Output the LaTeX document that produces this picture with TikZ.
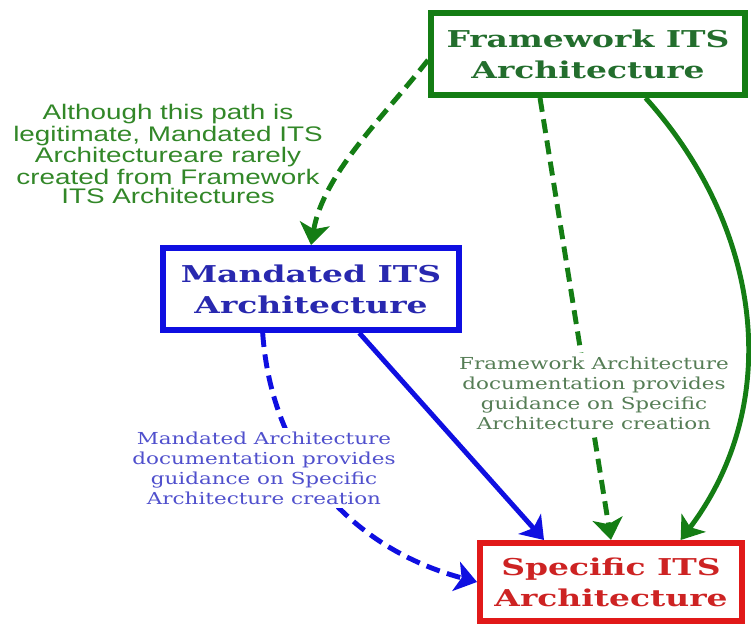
\documentclass[tikz,border=0pt]{standalone}
\usepackage{fontspec}
\usepackage{tikz}
\usetikzlibrary{arrows.meta,positioning,calc}
\newfontfamily\boxfont[FakeStretch=1.42]{DejaVu Serif}
\newfontfamily\notefont[FakeStretch=1.3]{DejaVu Serif}
\newfontfamily\pathfont[FakeStretch=1.32]{Liberation Sans}
\definecolor{fwgreen}{RGB}{20,125,20}
\definecolor{fwtext}{RGB}{35,110,45}
\definecolor{notegreen}{RGB}{85,125,85}
\definecolor{pathgreen}{RGB}{50,135,40}
\definecolor{mablue}{RGB}{15,15,225}
\definecolor{matext}{RGB}{40,40,175}
\definecolor{noteblue}{RGB}{80,80,205}
\definecolor{spred}{RGB}{225,25,25}
\definecolor{sptext}{RGB}{205,35,35}

\begin{document}
\begin{tikzpicture}[x=0.02cm, y=0.02cm, >={Stealth[length=4.3mm,width=6mm,inset=1.1mm]}, line width=2.8pt]
\tikzstyle{arch}=[draw, line width=3.4pt, fill=white, align=center, inner sep=0pt,
  font=\boxfont\bfseries\fontsize{13.2}{17.6}\selectfont]
\tikzstyle{note}=[align=center, fill=white, inner sep=2pt,
  font=\notefont\fontsize{9.4}{11.4}\selectfont]
\tikzstyle{dashy}=[dash pattern=on 0.28cm off 0.15cm]
\useasboundingbox (0,0) rectangle (751,629);

\node[arch, draw=fwgreen, text=fwtext, minimum width=6.28cm, minimum height=1.64cm] (FW) at (588,575) {Framework ITS\\Architecture};
\node[arch, draw=mablue, text=matext, minimum width=5.92cm, minimum height=1.64cm] (MA) at (311,340) {Mandated ITS\\Architecture};
\node[arch, draw=spred, text=sptext, minimum width=5.24cm, minimum height=1.56cm] (SP) at (611,47) {Specific ITS\\Architecture};

\path[->]
([yshift=-0.12cm]FW.west) edge[fwgreen, dashy, out=232, in=80, looseness=0.85] (MA.north)
($(FW.south west)!.35!(FW.south east)$) edge[fwgreen, dashy] (SP.north)
($(FW.south west)!.68!(FW.south east)$) edge[fwgreen, out=-48, in=53] ($(SP.north west)!.76!(SP.north east)$)
($(MA.south west)!.66!(MA.south east)$) edge[mablue] ($(SP.north west)!.25!(SP.north east)$)
($(MA.south west)!.34!(MA.south east)$) edge[mablue, dashy, out=-86, in=165] (SP.west);

\node[align=center, text=pathgreen, font=\pathfont\fontsize{12}{10.8}\selectfont] (why) at (168,475)
  {Although this path is\\legitimate, Mandated ITS\\Architectureare rarely\\created from Framework\\ITS Architectures};
\node[note, text=notegreen] (fwnote) at (594,236)
  {Framework Architecture\\documentation provides\\guidance on Specific\\Architecture creation};
\node[note, text=noteblue] (manote) at (264,161)
  {Mandated Architecture\\documentation provides\\guidance on Specific\\Architecture creation};
\end{tikzpicture}
\end{document}
